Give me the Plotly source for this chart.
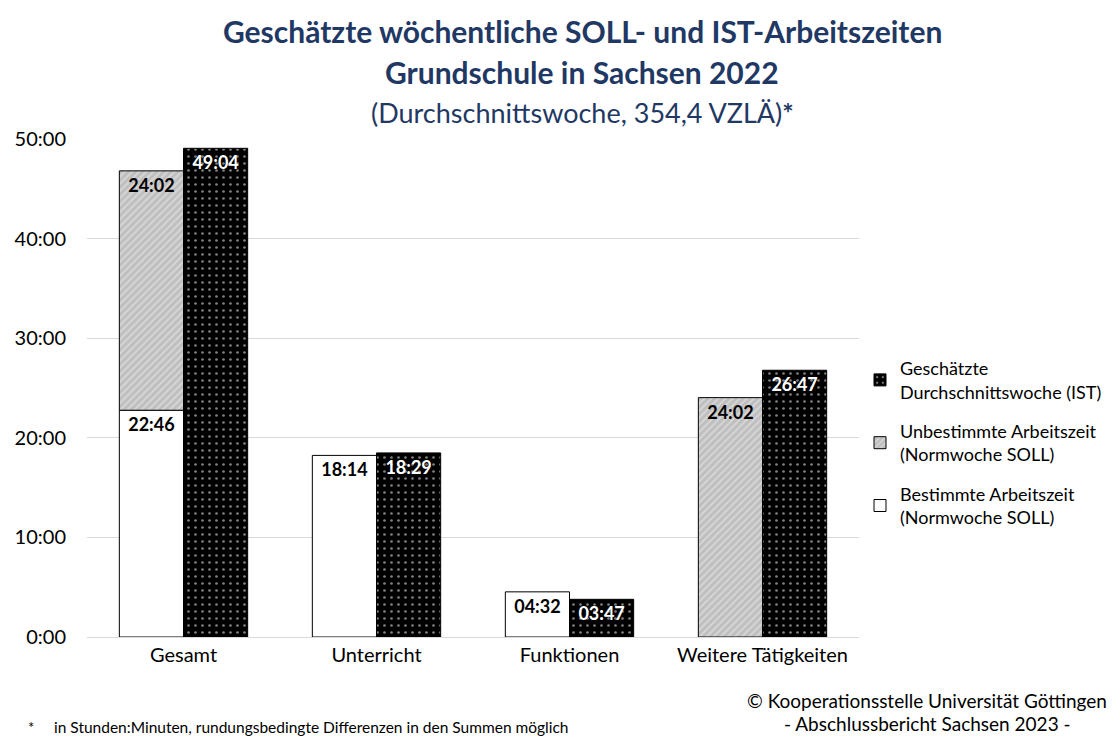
import plotly.graph_objects as go

FONT = "Lato"
NAVY = "#1f3864"

categories = ["Gesamt", "Unterricht", "Funktionen", "Weitere Tätigkeiten"]
# values in Stunden:Minuten
soll_bestimmt = ["22:46", "18:14", "04:32", None]
soll_unbestimmt = ["24:02", None, None, "24:02"]
ist = ["49:04", "18:29", "03:47", "26:47"]
y_ticks = [0, 10, 20, 30, 40, 50]
y_tick_labels = ["0:00", "10:00", "20:00", "30:00", "40:00", "50:00"]


def to_hours(s):
    if s is None:
        return None
    h, m = s.split(":")
    return int(h) + int(m) / 60


L, R, T, B = 87, 261, 139, 99
W, H = 1120, 736


def px(x):
    return (x - L) / (W - L - R)


def py(y):
    return (H - B - y) / (H - T - B)


bestimmt_h = [to_hours(v) for v in soll_bestimmt]
unbestimmt_h = [to_hours(v) for v in soll_unbestimmt]
ist_h = [to_hours(v) for v in ist]

label_font = dict(size=18, family=FONT, weight="bold")

fig = go.Figure()
fig.add_bar(
    x=categories, y=bestimmt_h, offsetgroup="soll", legendrank=3, legendgroup="b",
    name="Bestimmte Arbeitszeit<br>(Normwoche SOLL)",
    marker=dict(color="white", line=dict(color="black", width=1)),
    text=[v or "" for v in soll_bestimmt], textposition="inside", insidetextanchor="end",
    textfont=dict(color="black", **label_font), textangle=0,
)
fig.add_bar(
    x=categories, y=unbestimmt_h, base=[b or 0 for b in bestimmt_h], offsetgroup="soll",
    legendrank=2, legendgroup="u",
    name="Unbestimmte Arbeitszeit<br>(Normwoche SOLL)",
    marker=dict(color="#c4c4c4", line=dict(color="black", width=1),
                pattern=dict(shape="/", fgcolor="#f0f0f0", bgcolor="#bfbfbf", size=5, solidity=0.35)),
    text=[v or "" for v in soll_unbestimmt], textposition="inside", insidetextanchor="end",
    textfont=dict(color="black", **label_font), textangle=0,
)
fig.add_bar(
    x=categories, y=ist_h, offsetgroup="ist", legendrank=1, legendgroup="i",
    name="Geschätzte<br>Durchschnittswoche (IST)",
    marker=dict(color="black", line=dict(color="black", width=1),
                pattern=dict(shape=".", fgcolor="white", bgcolor="black", size=7, solidity=0.12)),
    text=ist, textposition="inside", insidetextanchor="end",
    textfont=dict(color="white", **label_font), textangle=0,
)

fig.update_layout(
    width=W, height=H, template="plotly_white",
    margin=dict(l=L, r=R, t=T, b=B),
    barmode="group", bargap=0.335, bargroupgap=0,
    font=dict(family=FONT, color="black", size=18),
    plot_bgcolor="white", paper_bgcolor="white",
    legend=dict(x=px(860), y=py(443), xanchor="left", yanchor="middle",
                font=dict(size=18, family=FONT), tracegroupgap=13, itemwidth=30,
                bgcolor="rgba(0,0,0,0)"),
    uniformtext=dict(minsize=18, mode="show"),
)
fig.update_xaxes(showline=True, linecolor="#d9d9d9", showgrid=False, ticks="",
                 tickfont=dict(size=20, family=FONT))
fig.update_yaxes(range=[0, 50], tickvals=y_ticks, ticktext=y_tick_labels,
                 gridcolor="#d9d9d9", zeroline=False, showline=False,
                 tickfont=dict(size=20, family=FONT), ticklabelstandoff=20)

annotations = [
    dict(x=px(582), y=py(31), text="<b>Geschätzte wöchentliche SOLL- und IST-Arbeitszeiten</b>",
         font=dict(size=30, color=NAVY)),
    dict(x=px(582), y=py(72), text="<b>Grundschule in Sachsen 2022</b>",
         font=dict(size=30, color=NAVY)),
    dict(x=px(582), y=py(112), text="(Durchschnittswoche, 354,4 VZLÄ)<b>*</b>",
         font=dict(size=27, color=NAVY)),
    dict(x=px(927), y=py(700), text="© Kooperationsstelle Universität Göttingen",
         font=dict(size=19)),
    dict(x=px(927), y=py(723), text="- Abschlussbericht Sachsen 2023 -", font=dict(size=19)),
    dict(x=px(26), y=py(727), xanchor="left", text="*", font=dict(size=15)),
    dict(x=px(52), y=py(727), xanchor="left",
         text="in Stunden:Minuten, rundungsbedingte Differenzen in den Summen möglich",
         font=dict(size=15.5)),
]
for a in annotations:
    a.update(xref="paper", yref="paper", showarrow=False, yanchor=a.get("yanchor", "middle"),
             xanchor=a.get("xanchor", "center"))
    a["font"].setdefault("family", FONT)
    fig.add_annotation(**a)

fig.write_html("out.html", config={"displayModeBar": False},
               post_script="document.body.style.margin='0';")
